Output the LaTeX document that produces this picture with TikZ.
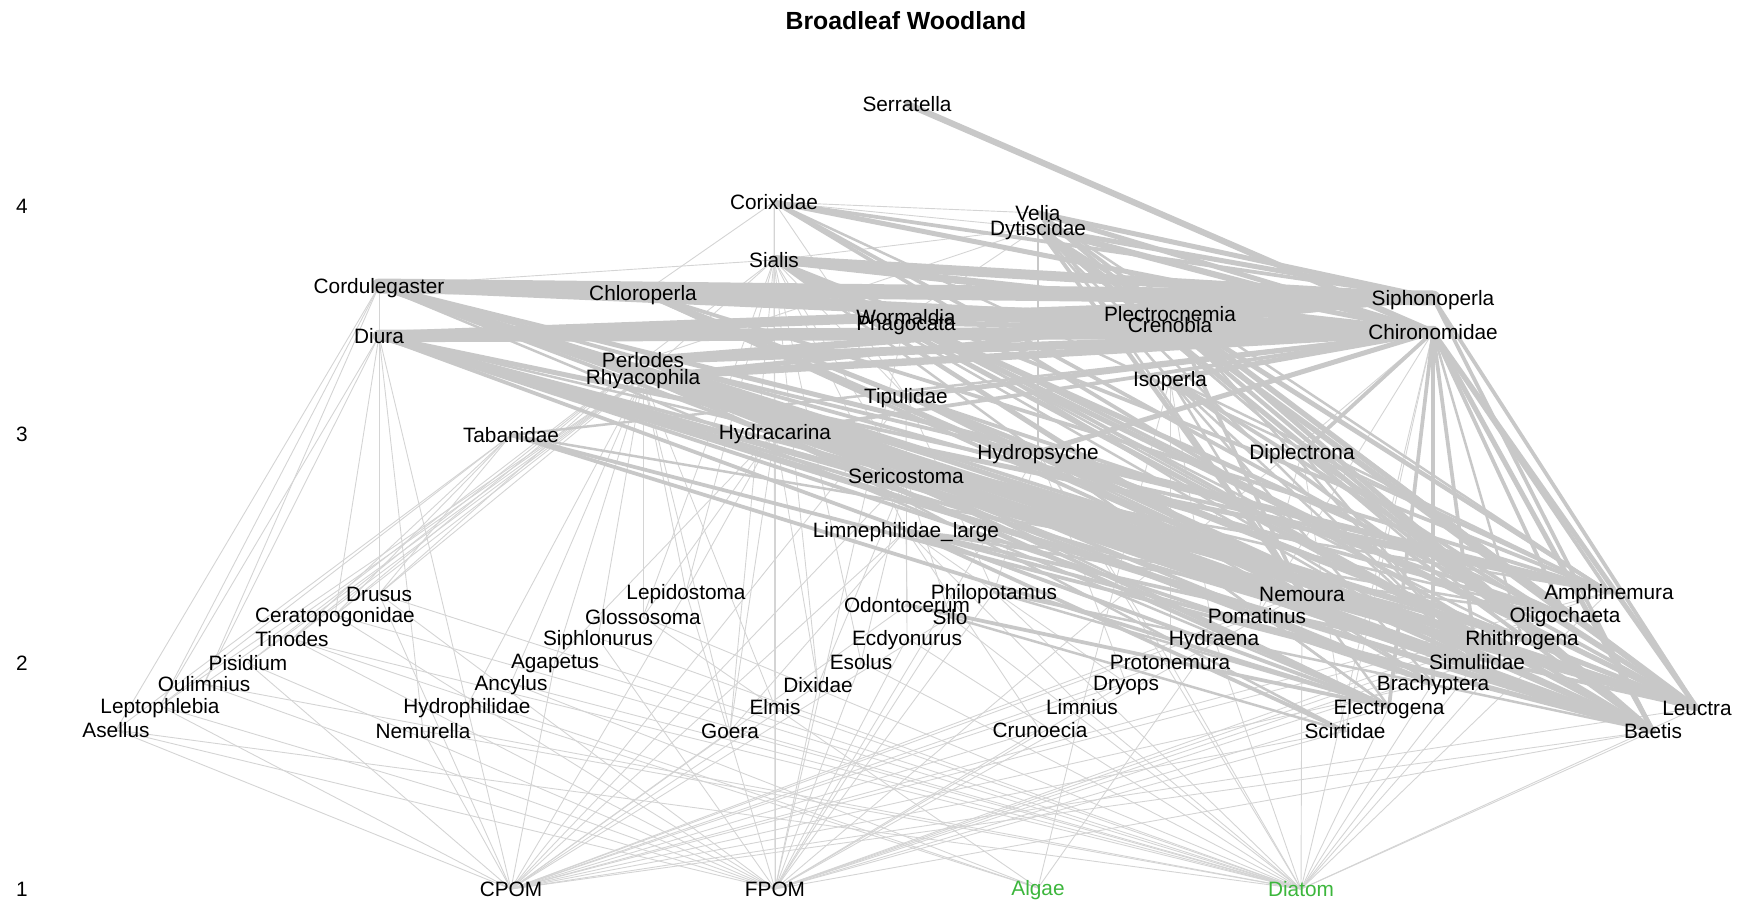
\documentclass[tikz,border=0pt]{standalone}
\usepackage{fontspec}
\setmainfont{Liberation Sans}
\usetikzlibrary{backgrounds}

\definecolor{webgray}{RGB}{200,200,200}
\definecolor{thingray}{RGB}{212,212,212}
\definecolor{basalgreen}{RGB}{60,182,60}

\begin{document}
\begin{tikzpicture}[x=1pt,y=-1pt,
		taxon/.style={inner sep=0pt,text height=15pt,text depth=0pt,
			font=\fontsize{20.8}{24}\selectfont},
		basal/.style={taxon,text=basalgreen},
		feed/.style={draw=webgray,line cap=round},
		weak/.style={draw=thingray,line width=0.9pt}]
	\useasboundingbox (0,0) rectangle (1745,904);

	\node[font=\bfseries\fontsize{24.8}{28}\selectfont] (title) at (906,21) {Broadleaf Woodland};
	% trophic level axis
	\foreach \l/\y in {1/889,2/663,3/434,4/206}
		\node[taxon] (lev\l) at (22,\y) {\l};

	% predators and upper consumers
	\foreach \n/\x/\y/\t in {serr/907/104/Serratella, cori/774/202/Corixidae,
		veli/1038/213/Velia, dyti/1038/228/Dytiscidae, sial/774/260/Sialis,
		cord/379/286/Cordulegaster, chlo/643/293/Chloroperla,
		siph/1433/298/Siphonoperla, worm/906/317/Wormaldia, phag/906/323/Phagocata,
		plec/1170/314/Plectrocnemia, cren/1170/325/Crenobia,
		chir/1433/332/Chironomidae, diur/379/336/Diura, perl/643/360/Perlodes,
		rhya/643/377/Rhyacophila, isop/1170/379/Isoperla, tipu/906/396/Tipulidae,
		taba/511/435/Tabanidae, hydc/775/432/Hydracarina, hyds/1038/452/Hydropsyche,
		dipl/1302/452/Diplectrona, seri/906/476/Sericostoma,
		limn/906/530/Limnephilidae\_large}
		\node[taxon] (\n) at (\x,\y) {\t};

	% grazers and detritivores
	\foreach \n/\x/\y/\t in {drus/379/594/Drusus, lepi/686/592/Lepidostoma,
		phil/994/592/Philopotamus, nemo/1302/594/Nemoura, amph/1609/592/Amphinemura,
		cera/335/615/Ceratopogonidae, glos/643/617/Glossosoma, odon/907/605/Odontocerum,
		silo/950/617/Silo, poma/1257/616/Pomatinus, olig/1565/615/Oligochaeta,
		tino/292/639/Tinodes, sipl/598/638/Siphlonurus, ecdy/907/638/Ecdyonurus,
		hydr/1214/638/Hydraena, rhit/1522/638/Rhithrogena, pisi/248/663/Pisidium,
		agap/555/661/Agapetus, esol/861/662/Esolus, prot/1170/662/Protonemura,
		simu/1477/662/Simuliidae, ouli/204/684/Oulimnius, ancy/511/683/Ancylus,
		dixi/818/685/Dixidae, dryo/1126/683/Dryops, brac/1433/683/Brachyptera,
		lept/160/706/Leptophlebia, hphi/467/706/Hydrophilidae, elmi/775/707/Elmis,
		limi/1082/707/Limnius, elec/1389/707/Electrogena, leuc/1697/708/Leuctra,
		asel/116/730/Asellus, nemu/423/731/Nemurella, goer/730/731/Goera,
		crun/1040/730/Crunoecia, scir/1345/731/Scirtidae, baet/1653/731/Baetis}
		\node[taxon] (\n) at (\x,\y) {\t};

	% basal resources
	\node[taxon] (cpom) at (511,889) {CPOM};
	\node[taxon] (fpom) at (775,889) {FPOM};
	\node[basal] (alga) at (1038,888) {Algae};
	\node[basal] (diat) at (1301,889) {Diatom};

	\begin{pgfonlayer}{background}
		% feeding on basal resources
		\foreach \c/\food in {drus/{cpom,fpom,diat}, lepi/{cpom,fpom}, phil/{fpom,diat},
			nemo/{cpom,fpom,diat}, amph/{cpom,fpom,diat}, cera/{fpom,diat},
			glos/{diat,alga}, odon/{cpom}, silo/{diat,fpom,cpom}, poma/{cpom},
			olig/{fpom,cpom}, tino/{fpom,diat,alga}, sipl/{fpom,diat}, ecdy/{diat,fpom},
			hydr/{diat,alga}, rhit/{diat,fpom}, pisi/{fpom,cpom}, agap/{diat,cpom},
			esol/{diat,fpom}, prot/{cpom,diat}, simu/{fpom,diat}, ouli/{diat,fpom},
			ancy/{diat,alga}, dixi/{fpom,cpom}, dryo/{cpom,fpom}, brac/{cpom,diat},
			lept/{fpom,cpom}, hphi/{cpom,alga}, elmi/{diat,fpom}, limi/{diat,alga},
			elec/{diat,fpom}, leuc/{cpom,diat}, asel/{cpom,fpom,diat}, nemu/{cpom,diat},
			goer/{diat,cpom}, crun/{cpom,fpom}, scir/{cpom,fpom}, baet/{diat,fpom,cpom},
			limn/{cpom}, seri/{cpom}, tipu/{cpom}, hyds/{fpom,diat}, chir/{fpom,diat},
			worm/{fpom}, cori/{fpom}}
			\foreach \r in \food
				\draw[weak] (\c.center) -- (\r.center);

		% weak predation links
		\foreach \p/\prey in {cori/{veli,dyti,sial,chlo,tipu},
			dyti/{sial,isop,worm,perl}, cord/{sial,asel,lept,ouli,drus},
			sial/{perl,rhya,hydc,lepi,glos,tipu,goer,dixi,esol,seri,limn},
			diur/{cera,drus,nemu,lept,ouli,hphi}, perl/{drus,cera,tino,pisi},
			rhya/{drus,cera,tino,pisi,ouli,lept,agap,glos,ancy,sipl,lepi,hphi,goer,elmi},
			taba/{drus,cera,tino,lept,asel}, hydc/{glos,lepi,goer,elmi,dixi,agap},
			limn/{odon,goer,crun,dryo,limi}, seri/{esol,dixi,silo},
			tipu/{ecdy,phil}, isop/{prot,hydr,limi}, hyds/{phil,prot,dryo},
			dipl/{poma,scir}, chir/{scir,poma}}
			\foreach \q in \prey
				\draw[weak] (\p.center) -- (\q.center);

		% strong predation links, width by share of diet
		\foreach \p/\diet in {serr/{chir/5},
			cori/{chir/4,siph/3,leuc/3,baet/3,amph/2},
			veli/{chir/4,siph/4,leuc/3,baet/3,amph/2,nemo/2},
			dyti/{chir/5,siph/4,leuc/4,baet/4,amph/3,nemo/3,rhit/2,simu/2,brac/2,elec/2,hyds/2,dipl/2},
			sial/{siph/8,chir/6,leuc/4,baet/4,amph/3,nemo/3,simu/2,rhit/2,elec/2,brac/2,olig/2},
			cord/{siph/12,chir/8,leuc/5,baet/5,amph/4,olig/3,nemo/3,rhit/3,simu/3,brac/3,elec/2,plec/2},
			chlo/{siph/7,chir/6,leuc/4,baet/4,amph/3,nemo/3,simu/2,rhit/2},
			diur/{chir/10,siph/8,leuc/5,baet/5,amph/4,nemo/3,rhit/3,simu/3,brac/3,elec/3,olig/2},
			worm/{chir/4,siph/4,leuc/3,baet/3,simu/2},
			phag/{chir/4,siph/3,olig/3,leuc/3,baet/2},
			plec/{chir/5,siph/5,leuc/4,baet/4,amph/3,nemo/3,simu/2},
			cren/{chir/4,siph/3,olig/3,leuc/3,baet/3},
			perl/{chir/7,siph/6,leuc/4,baet/5,amph/3,nemo/3,rhit/3,simu/3,brac/3,elec/3},
			rhya/{chir/6,siph/4,leuc/4,baet/5,simu/4,rhit/3,elec/3,brac/3,nemo/3,amph/3},
			isop/{chir/4,leuc/3,baet/3,amph/2,nemo/2,simu/2},
			tipu/{chir/4,olig/3,leuc/3,baet/3,simu/2,nemo/2},
			taba/{chir/2,baet/3,elec/3,olig/2},
			hydc/{chir/3,simu/3,baet/3,leuc/2,elec/2,scir/2},
			hyds/{chir/4,baet/4,simu/3,leuc/3,amph/3,rhit/2,elec/2,brac/2},
			dipl/{chir/3,baet/3,leuc/3,amph/2,simu/2},
			seri/{baet/3,leuc/3,elec/2,amph/2,nemo/2},
			limn/{baet/3,leuc/3,scir/3,elec/2,nemo/2,olig/2},
			chir/{leuc/4,baet/4,amph/3,olig/3,simu/3,elec/3,brac/3,dipl/2,rhit/2},
			siph/{leuc/3,baet/3},
			phil/{elec/2,baet/2}, odon/{elec/3}, silo/{scir/2}}
			\foreach \q/\w in \diet
				\draw[feed,line width=1.25*\w pt] (\p.center) -- (\q.center);
	\end{pgfonlayer}
\end{tikzpicture}
\end{document}
